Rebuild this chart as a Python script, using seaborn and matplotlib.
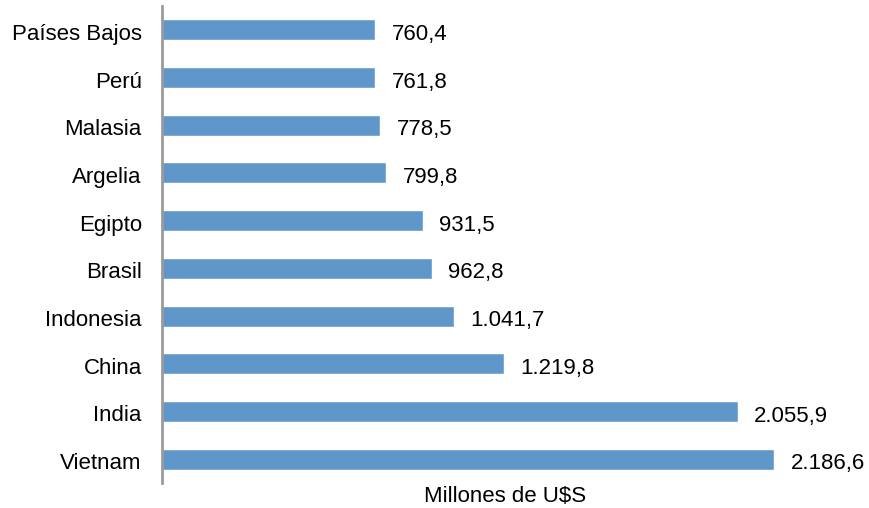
import pandas as pd
import matplotlib
matplotlib.use("Agg")
from matplotlib import pyplot as plt
import seaborn as sns

# Data
paises = ["Países Bajos", "Perú", "Malasia", "Argelia", "Egipto",
          "Brasil", "Indonesia", "China", "India", "Vietnam"]
valores = [760.4, 761.8, 778.5, 799.8, 931.5, 962.8, 1041.7, 1219.8, 2055.9, 2186.6]

df = pd.DataFrame({"pais": paises, "valor": valores})


def fmt_es(v):
    # Spanish format: "." for thousands, "," for decimals
    s = f"{v:,.1f}"
    return s.replace(",", "X").replace(".", ",").replace("X", ".")


sns.set_style("white")
plt.rcParams["font.family"] = ["Liberation Sans", "DejaVu Sans"]

fig = plt.figure(figsize=(8.69, 5.08), dpi=100)
ax = fig.add_axes([0.1864, 0.0492, 0.8055, 0.939])

sns.barplot(data=df, y="pais", x="valor", orient="h", color="#6097CA",
            saturation=1, width=0.44, ax=ax)

for i, v in enumerate(valores):
    ax.annotate(fmt_es(v), xy=(v, i), xytext=(12, -1.5), textcoords="offset points",
                va="center_baseline", ha="left", fontsize=16, color="black")

ax.set_xlim(0, 2500)
ax.set_ylim(9.5, -0.5)
ax.set_xlabel("")
ax.set_ylabel("")
ax.set_xticks([])
ax.tick_params(axis="y", length=0, labelsize=16, pad=14.5, colors="black")
for lab in ax.get_yticklabels():
    lab.set_y(lab.get_position()[1])
    lab.set_transform(lab.get_transform() + matplotlib.transforms.ScaledTranslation(0, -2 / 100, fig.dpi_scale_trans))
for side in ["top", "right", "bottom"]:
    ax.spines[side].set_visible(False)
ax.spines["left"].set_color("#9a9a9a")
ax.spines["left"].set_linewidth(2)

fig.text(505 / 869, 1 - 497 / 508, "Millones de U$S", ha="center", va="center",
         fontsize=16, color="black")

plt.savefig("out.png", dpi=100)
